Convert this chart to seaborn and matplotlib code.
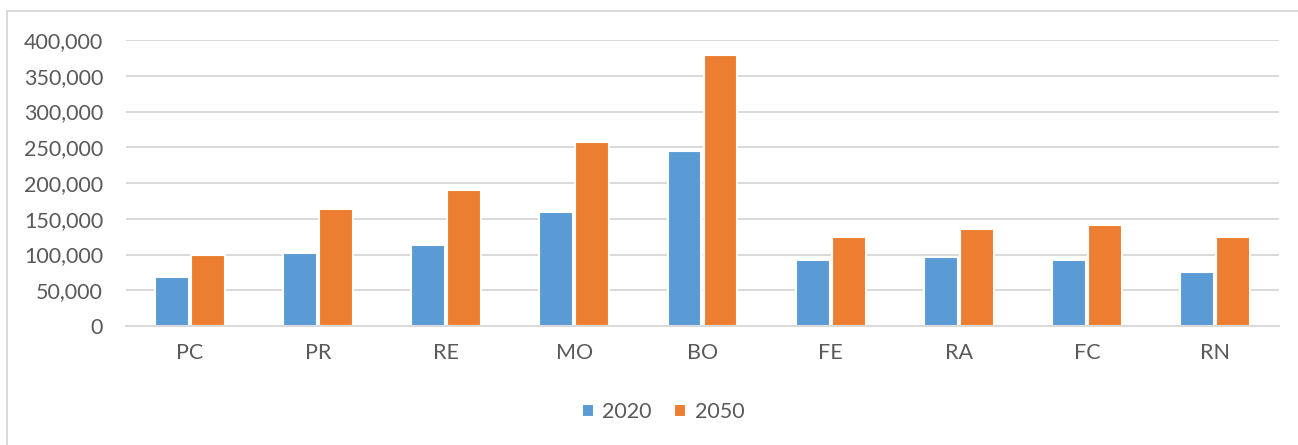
import matplotlib
matplotlib.use("Agg")
import matplotlib.pyplot as plt
from matplotlib.lines import Line2D
from matplotlib.ticker import FuncFormatter, FixedLocator
import seaborn as sns
import pandas as pd

# Values per category
categories = ["PC", "PR", "RE", "MO", "BO", "FE", "RA", "FC", "RN"]
values_2020 = [68000, 102000, 113000, 159000, 245000, 93000, 96000, 93000, 75000]
values_2050 = [100000, 164000, 190000, 258000, 379000, 124000, 135000, 141000, 125000]
series_labels = ["2020", "2050"]
yticks = [0, 50000, 100000, 150000, 200000, 250000, 300000, 350000, 400000]

df = pd.DataFrame({
    "category": categories * 2,
    "year": [series_labels[0]] * len(categories) + [series_labels[1]] * len(categories),
    "value": values_2020 + values_2050,
})

sns.set_theme(style="white")
plt.rcParams["font.family"] = ["Lato", "DejaVu Sans"]

TEXT = "#595959"
GRID = "#D9D9D9"
W, H = 1298, 445

fig = plt.figure(figsize=(W / 100, H / 100), dpi=100)
ax = fig.add_axes([126 / W, 1 - 326 / H, (1279 - 126) / W, (326 - 40) / H])

sns.barplot(
    data=df, x="category", y="value", hue="year",
    order=categories, hue_order=series_labels,
    palette=["#5B9BD5", "#ED7D31"], saturation=1,
    width=0.562, gap=0.06, edgecolor="white", linewidth=1.5,
    errorbar=None, ax=ax,
)

ax.set_ylim(0, 400000)
ax.set_xlim(-0.5, len(categories) - 0.5)
ax.yaxis.set_major_locator(FixedLocator(yticks))
ax.yaxis.set_major_formatter(FuncFormatter(lambda v, p: f"{int(v):,}"))
ax.set_axisbelow(True)
ax.grid(axis="y", color=GRID, linewidth=1.4)
ax.grid(axis="x", visible=False)

for side in ["left", "right", "top"]:
    ax.spines[side].set_visible(False)
ax.spines["bottom"].set_color(GRID)
ax.spines["bottom"].set_linewidth(1.4)

ax.set_xlabel("")
ax.set_ylabel("")
ax.tick_params(axis="y", length=0, pad=16.5, labelsize=15.5, labelcolor=TEXT)
ax.tick_params(axis="x", which="major", length=0, pad=12.5, labelsize=15.5, labelcolor=TEXT)
ax.xaxis.set_minor_locator(FixedLocator([i - 0.5 for i in range(len(categories) + 1)]))
ax.tick_params(axis="x", which="minor", length=4.5, width=1.4, color=GRID, direction="out")

handles, labels = ax.get_legend_handles_labels()
ax.get_legend().remove()
fig.legend(
    handles, labels, loc="center", bbox_to_anchor=(663 / W, 1 - 412 / H),
    ncol=2, frameon=False, fontsize=15.5, labelcolor=TEXT,
    handlelength=0.55, handleheight=0.55, handletextpad=0.4, columnspacing=1.05,
)

# Chart-area border (top and left edges)
fig.add_artist(Line2D([7 / W, 7 / W], [0, 1 - 11 / H], color=GRID, linewidth=1.4))
fig.add_artist(Line2D([7 / W, 1], [1 - 11 / H, 1 - 11 / H], color=GRID, linewidth=1.4))

fig.savefig("out.png", dpi=100)
